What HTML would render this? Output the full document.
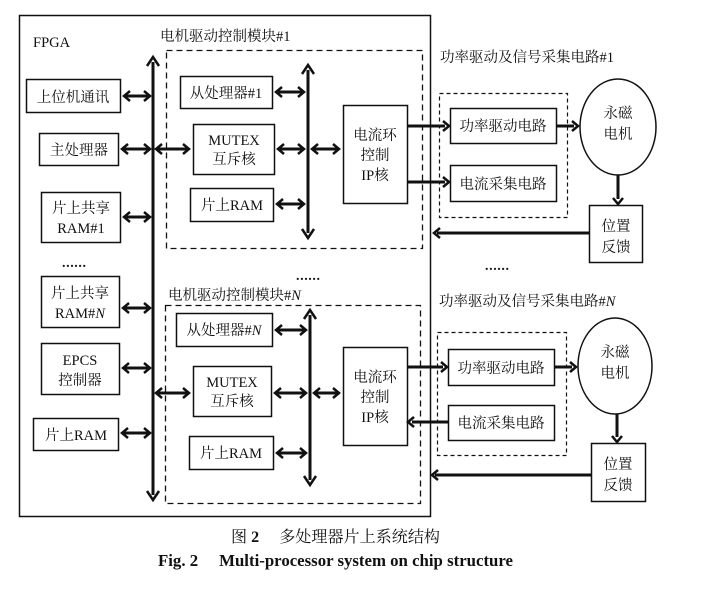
<!DOCTYPE html>
<html><head><meta charset="utf-8"><style>
html,body{margin:0;padding:0;background:#fff;}
svg{display:block;}
text{font-family:"Liberation Serif","Noto Serif CJK SC","Noto Sans CJK SC",serif;fill:#111;}
</style></head><body>
<svg width="705" height="599" viewBox="0 0 705 599" xmlns="http://www.w3.org/2000/svg">
<g stroke="#111" fill="none">
<rect x="19.5" y="15.5" width="411" height="501" stroke-width="1.5"/>
<rect x="166.5" y="50.5" width="256" height="198" stroke-dasharray="6,4" stroke-width="1.3"/>
<rect x="165.5" y="305.5" width="255" height="198" stroke-dasharray="6,4" stroke-width="1.3"/>
<rect x="439.5" y="93.5" width="128" height="124" stroke-dasharray="4,3" stroke-width="1.2"/>
<rect x="437.5" y="332.5" width="129" height="123" stroke-dasharray="4,3" stroke-width="1.2"/>
<g stroke-width="1.5">
<rect x="26.5" y="79.5" width="94" height="33"/>
<rect x="39.5" y="133.5" width="79" height="32"/>
<rect x="41.5" y="192.5" width="79" height="50"/>
<rect x="41.5" y="276.5" width="78" height="51"/>
<rect x="41.5" y="343.5" width="78" height="51"/>
<rect x="33.5" y="418.5" width="85" height="32"/>
<rect x="180.5" y="76.5" width="92" height="32"/>
<rect x="193.5" y="124.5" width="81" height="50"/>
<rect x="190.5" y="188.5" width="83" height="33"/>
<rect x="343.5" y="105.5" width="64" height="98"/>
<rect x="176.5" y="313.5" width="96" height="33"/>
<rect x="193.5" y="366.5" width="78" height="50"/>
<rect x="189.5" y="436.5" width="84" height="33"/>
<rect x="343.5" y="347.5" width="64" height="98"/>
<rect x="450.5" y="108.5" width="106" height="35"/>
<rect x="450.5" y="165.5" width="106" height="36"/>
<rect x="448.5" y="349.5" width="106" height="36"/>
<rect x="448.5" y="405.5" width="106" height="35"/>
<rect x="589.5" y="205.5" width="53" height="57"/>
<rect x="591.5" y="443.5" width="54" height="58"/>
<ellipse cx="618" cy="127" rx="38" ry="48"/>
<ellipse cx="615" cy="366" rx="37" ry="48"/>
</g>
<g stroke-width="3">
<line x1="153" y1="62" x2="153" y2="495"/>
<line x1="308" y1="70" x2="308" y2="233"/>
<line x1="310" y1="315" x2="310" y2="480"/>
<line x1="125" y1="96" x2="149" y2="96"/>
<line x1="123" y1="149" x2="149" y2="149"/>
<line x1="157" y1="149" x2="188" y2="149"/>
<line x1="125" y1="217" x2="149" y2="217"/>
<line x1="124" y1="308" x2="149" y2="308"/>
<line x1="124" y1="368" x2="149" y2="368"/>
<line x1="123" y1="433" x2="149" y2="433"/>
<line x1="157" y1="393" x2="188" y2="393"/>
<line x1="277" y1="92" x2="303" y2="92"/>
<line x1="279" y1="149" x2="303" y2="149"/>
<line x1="278" y1="204" x2="303" y2="204"/>
<line x1="313" y1="149" x2="338" y2="149"/>
<line x1="277" y1="330" x2="305" y2="330"/>
<line x1="276" y1="393" x2="305" y2="393"/>
<line x1="278" y1="453" x2="305" y2="453"/>
<line x1="315" y1="393" x2="338" y2="393"/>
<line x1="407" y1="126" x2="445" y2="126"/>
<line x1="407" y1="182" x2="445" y2="182"/>
<line x1="556" y1="126" x2="574" y2="126"/>
<line x1="618" y1="175" x2="618" y2="199"/>
<line x1="589" y1="233" x2="437" y2="233"/>
<line x1="407" y1="367" x2="443" y2="367"/>
<line x1="412" y1="422" x2="448" y2="422"/>
<line x1="554" y1="367" x2="572" y2="367"/>
<line x1="617" y1="414" x2="617" y2="437"/>
<line x1="591" y1="475" x2="435" y2="475"/>
</g>
</g>
<g stroke="#111" stroke-width="2.5" fill="none" stroke-linejoin="miter">
<polyline points="147,66 153,57 159,66"/>
<polyline points="147,491 153,500 159,491"/>
<polyline points="302,74 308,65 314,74"/>
<polyline points="302,229 308,238 314,229"/>
<polyline points="304,319 310,310 316,319"/>
<polyline points="304,476 310,485 316,476"/>
<polyline points="130,91 124,96 130,101"/><polyline points="144,91 150,96 144,101"/>
<polyline points="128,144 122,149 128,154"/><polyline points="144,144 150,149 144,154"/>
<polyline points="162,144 156,149 162,154"/><polyline points="183,144 189,149 183,154"/>
<polyline points="130,212 124,217 130,222"/><polyline points="144,212 150,217 144,222"/>
<polyline points="129,303 123,308 129,313"/><polyline points="144,303 150,308 144,313"/>
<polyline points="129,363 123,368 129,373"/><polyline points="144,363 150,368 144,373"/>
<polyline points="128,428 122,433 128,438"/><polyline points="144,428 150,433 144,438"/>
<polyline points="162,388 156,393 162,398"/><polyline points="183,388 189,393 183,398"/>
<polyline points="282,87 276,92 282,97"/><polyline points="298,87 304,92 298,97"/>
<polyline points="284,144 278,149 284,154"/><polyline points="298,144 304,149 298,154"/>
<polyline points="283,199 277,204 283,209"/><polyline points="298,199 304,204 298,209"/>
<polyline points="318,144 312,149 318,154"/><polyline points="333,144 339,149 333,154"/>
<polyline points="282,325 276,330 282,335"/><polyline points="300,325 306,330 300,335"/>
<polyline points="281,388 275,393 281,398"/><polyline points="300,388 306,393 300,398"/>
<polyline points="283,448 277,453 283,458"/><polyline points="300,448 306,453 300,458"/>
<polyline points="320,388 314,393 320,398"/><polyline points="333,388 339,393 333,398"/>
<polyline points="443,121 449,126 443,131"/>
<polyline points="443,177 449,182 443,187"/>
<polyline points="572,121 578,126 572,131"/>
<polyline points="613,198 618,204 623,198"/>
<polyline points="440,228 434,233 440,238"/>
<polyline points="441,362 447,367 441,372"/>
<polyline points="414,417 408,422 414,427"/>
<polyline points="570,362 576,367 570,372"/>
<polyline points="612,436 617,442 622,436"/>
<polyline points="438,470 432,475 438,480"/>
</g>
<g font-size="14.5">
<text x="33" y="47" font-size="14.5">FPGA</text>
<text x="160" y="41">电机驱动控制模块#1</text>
<text x="168" y="300">电机驱动控制模块#<tspan font-style="italic">N</tspan></text>
<text x="440" y="62">功率驱动及信号采集电路#1</text>
<text x="439" y="306">功率驱动及信号采集电路#<tspan font-style="italic">N</tspan></text>
<text x="73" y="102" text-anchor="middle">上位机通讯</text>
<text x="79" y="155" text-anchor="middle">主处理器</text>
<text x="81" y="213" text-anchor="middle">片上共享</text>
<text x="81" y="233" text-anchor="middle">RAM#1</text>
<text x="80" y="298" text-anchor="middle">片上共享</text>
<text x="80" y="318" text-anchor="middle">RAM#<tspan font-style="italic">N</tspan></text>
<text x="80" y="365" text-anchor="middle">EPCS</text>
<text x="80" y="385" text-anchor="middle">控制器</text>
<text x="76" y="440" text-anchor="middle">片上RAM</text>
<text x="226" y="98" text-anchor="middle">从处理器#1</text>
<text x="234" y="145" text-anchor="middle">MUTEX</text>
<text x="234" y="164" text-anchor="middle">互斥核</text>
<text x="232" y="210" text-anchor="middle">片上RAM</text>
<text x="375" y="140" text-anchor="middle">电流环</text>
<text x="375" y="160" text-anchor="middle">控制</text>
<text x="375" y="180" text-anchor="middle">IP核</text>
<text x="224" y="335" text-anchor="middle">从处理器#<tspan font-style="italic">N</tspan></text>
<text x="232" y="387" text-anchor="middle">MUTEX</text>
<text x="232" y="406" text-anchor="middle">互斥核</text>
<text x="231" y="458" text-anchor="middle">片上RAM</text>
<text x="375" y="382" text-anchor="middle">电流环</text>
<text x="375" y="402" text-anchor="middle">控制</text>
<text x="375" y="422" text-anchor="middle">IP核</text>
<text x="503" y="131" text-anchor="middle">功率驱动电路</text>
<text x="503" y="189" text-anchor="middle">电流采集电路</text>
<text x="501" y="373" text-anchor="middle">功率驱动电路</text>
<text x="501" y="428" text-anchor="middle">电流采集电路</text>
<text x="618" y="118" text-anchor="middle">永磁</text>
<text x="618" y="139" text-anchor="middle">电机</text>
<text x="615" y="357" text-anchor="middle">永磁</text>
<text x="615" y="378" text-anchor="middle">电机</text>
<text x="616" y="231" text-anchor="middle">位置</text>
<text x="616" y="252" text-anchor="middle">反馈</text>
<text x="618" y="469" text-anchor="middle">位置</text>
<text x="618" y="490" text-anchor="middle">反馈</text>
</g>
<g font-size="14" font-weight="bold" font-family="Liberation Sans, sans-serif">
<text x="62" y="267" textLength="24" lengthAdjust="spacing">......</text>
<text x="296" y="280" textLength="24" lengthAdjust="spacing">......</text>
<text x="485" y="270" textLength="24" lengthAdjust="spacing">......</text>
</g>
<text x="231" y="542" font-size="16" textLength="209" lengthAdjust="spacingAndGlyphs">图 <tspan font-weight="bold">2</tspan>　 多处理器片上系统结构</text>
<text x="158" y="566" font-size="16.5" font-weight="bold" textLength="355" lengthAdjust="spacingAndGlyphs">Fig. 2　 Multi-processor system on chip structure</text>
</svg>
</body></html>
